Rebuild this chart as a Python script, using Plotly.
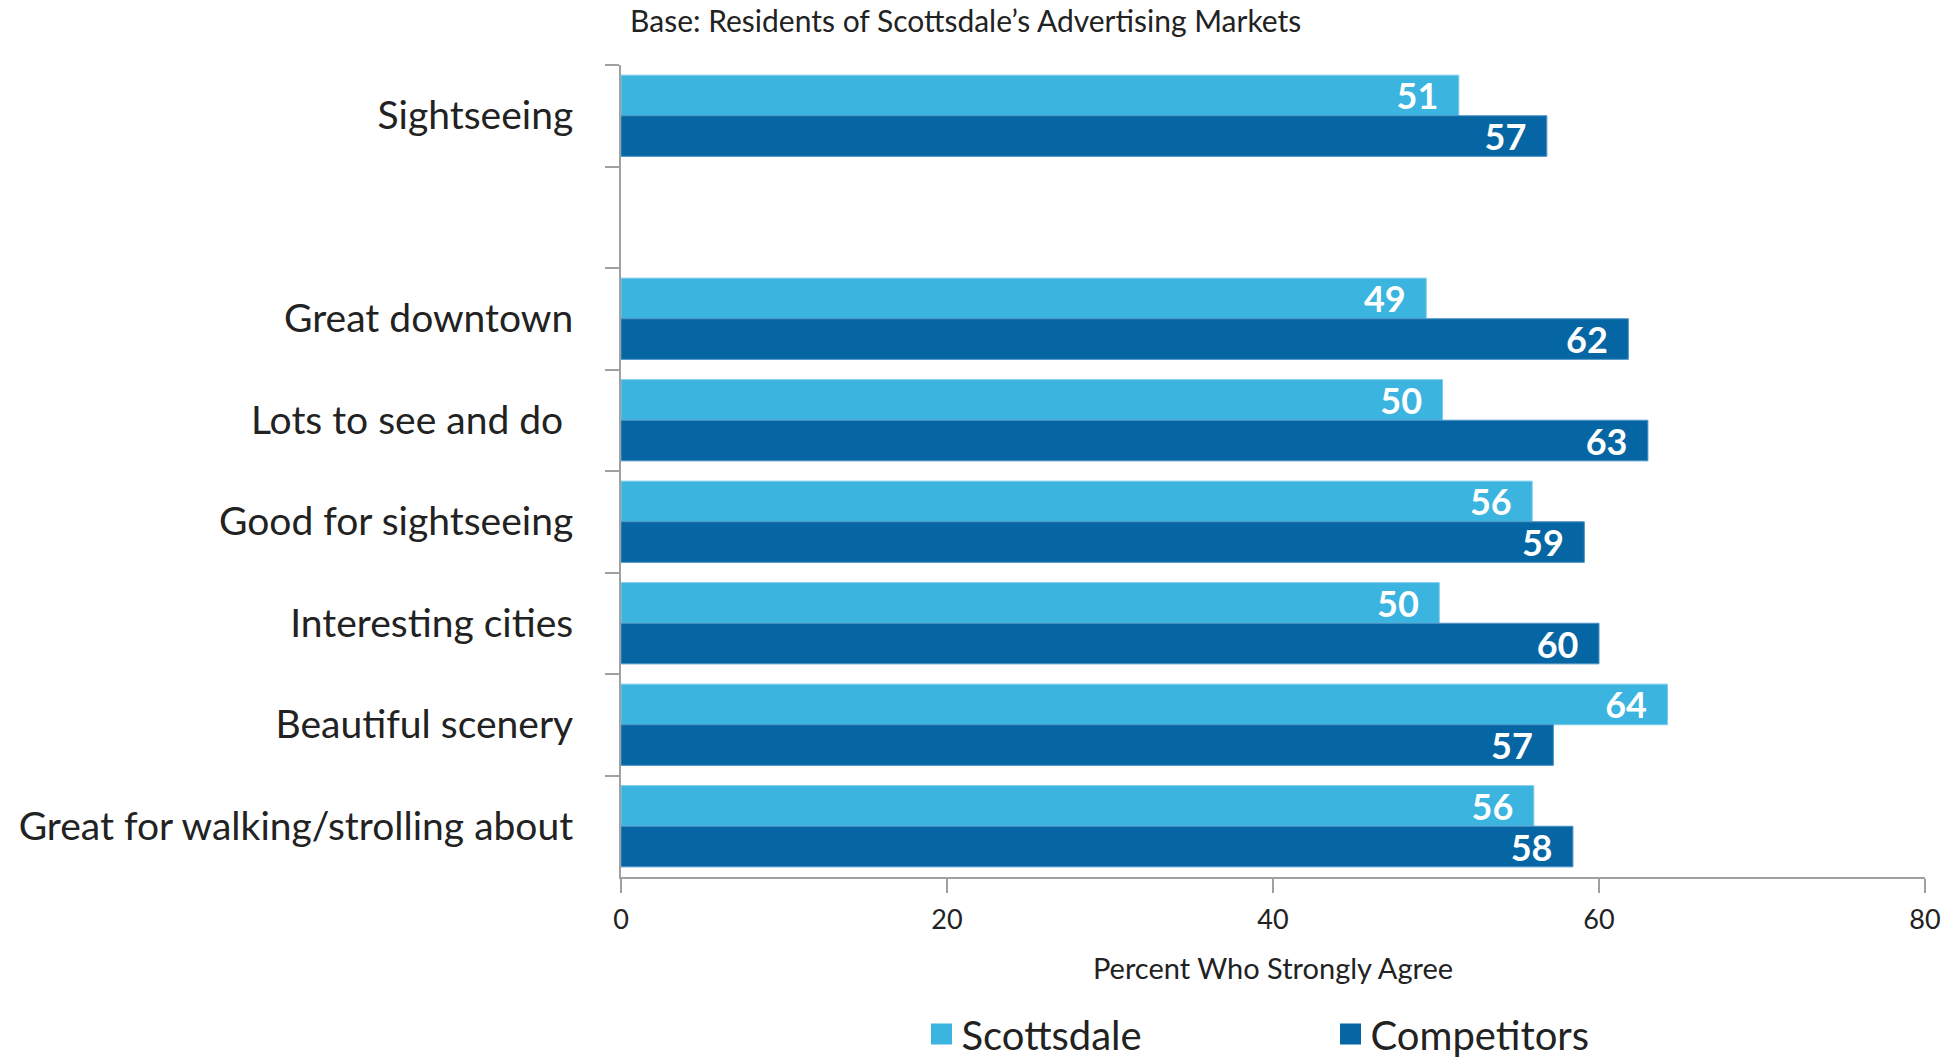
import plotly.graph_objects as go

# categories, top to bottom (" " is the empty spacer row under Sightseeing)
categories = ['Sightseeing', ' ', 'Great downtown', 'Lots to see and do ',
              'Good for sightseeing', 'Interesting cities', 'Beautiful scenery',
              'Great for walking/strolling about']

scottsdale = [51.4, None, 49.4, 50.4, 55.9, 50.2, 64.2, 56.0]
competitors = [56.8, None, 61.8, 63.0, 59.1, 60.0, 57.2, 58.4]

x_ticks = [0, 20, 40, 60, 80]

light_blue = '#3BB4E0'
dark_blue = '#0666A3'
font = 'Lato'
label_font = dict(family=font, size=36, color='white', weight='bold')

fig = go.Figure()
fig.add_trace(go.Bar(
    y=categories, x=scottsdale, name='Scottsdale', orientation='h', showlegend=False,
    marker=dict(color=light_blue, line=dict(color='#7cc9ea', width=1)),
    texttemplate='%{x:.0f}\u00a0\u00a0', textposition='inside', insidetextanchor='end',
    textangle=0, textfont=label_font, constraintext='none', cliponaxis=False,
))
fig.add_trace(go.Bar(
    y=categories, x=competitors, name='Competitors', orientation='h', showlegend=False,
    marker=dict(color=dark_blue, line=dict(color='#4a92c6', width=1)),
    texttemplate='%{x:.0f}\u00a0\u00a0', textposition='inside', insidetextanchor='end',
    textangle=0, textfont=label_font, constraintext='none', cliponaxis=False,
))
# legend entries with bigger square swatches
for name, col in [('Scottsdale', light_blue), ('Competitors', dark_blue)]:
    fig.add_trace(go.Scatter(
        x=[None], y=[None], mode='markers', name=name,
        marker=dict(symbol='square', size=16, color=col, line=dict(color=col, width=5)),
    ))

fig.update_layout(
    width=1947, height=1059,
    barmode='group', bargap=0.2, bargroupgap=0,
    plot_bgcolor='white', paper_bgcolor='white',
    font=dict(family=font, color='#222222'),
    margin=dict(l=621, r=22, t=65, b=182),
    title=dict(text="Base: Residents of Scottsdale\u2019s Advertising Markets",
               x=0.496, xanchor='center', y=0.980, yanchor='middle',
               font=dict(size=30, family=font, color='#222222')),
    legend=dict(orientation='h', xref='container', yref='container',
                x=0.4733, xanchor='left', y=0.0236, yanchor='middle',
                font=dict(size=40, family=font, color='#222222'),
                entrywidth=364, traceorder='normal'),
    uniformtext=dict(minsize=36, mode='show'),
)

fig.update_xaxes(
    range=[0, 80], tickvals=x_ticks, showgrid=False, zeroline=False,
    showline=True, linecolor='#a0a0a0', linewidth=2, automargin=False,
    ticks='outside', ticklen=14, tickcolor='#a0a0a0', tickwidth=1.5,
    tickfont=dict(size=27, family=font, color='#222222'), ticklabelstandoff=4,
    title=dict(text='Percent Who Strongly Agree', standoff=24,
               font=dict(size=29, family=font, color='#222222')),
)
fig.update_yaxes(
    categoryorder='array', categoryarray=categories, autorange='reversed',
    showgrid=False, zeroline=False, automargin=False,
    showline=True, linecolor='#a0a0a0', linewidth=2,
    ticks='outside', tickson='boundaries', ticklen=14, tickcolor='#a0a0a0', tickwidth=1.5,
    tickfont=dict(size=39, family=font, color='#222222'),
    ticklabelstandoff=38,
)

# drop the default 8px page margin so the figure fills the window exactly
fig.write_html('out.html', config={'displayModeBar': False},
               post_script="document.body.style.margin='0';")
